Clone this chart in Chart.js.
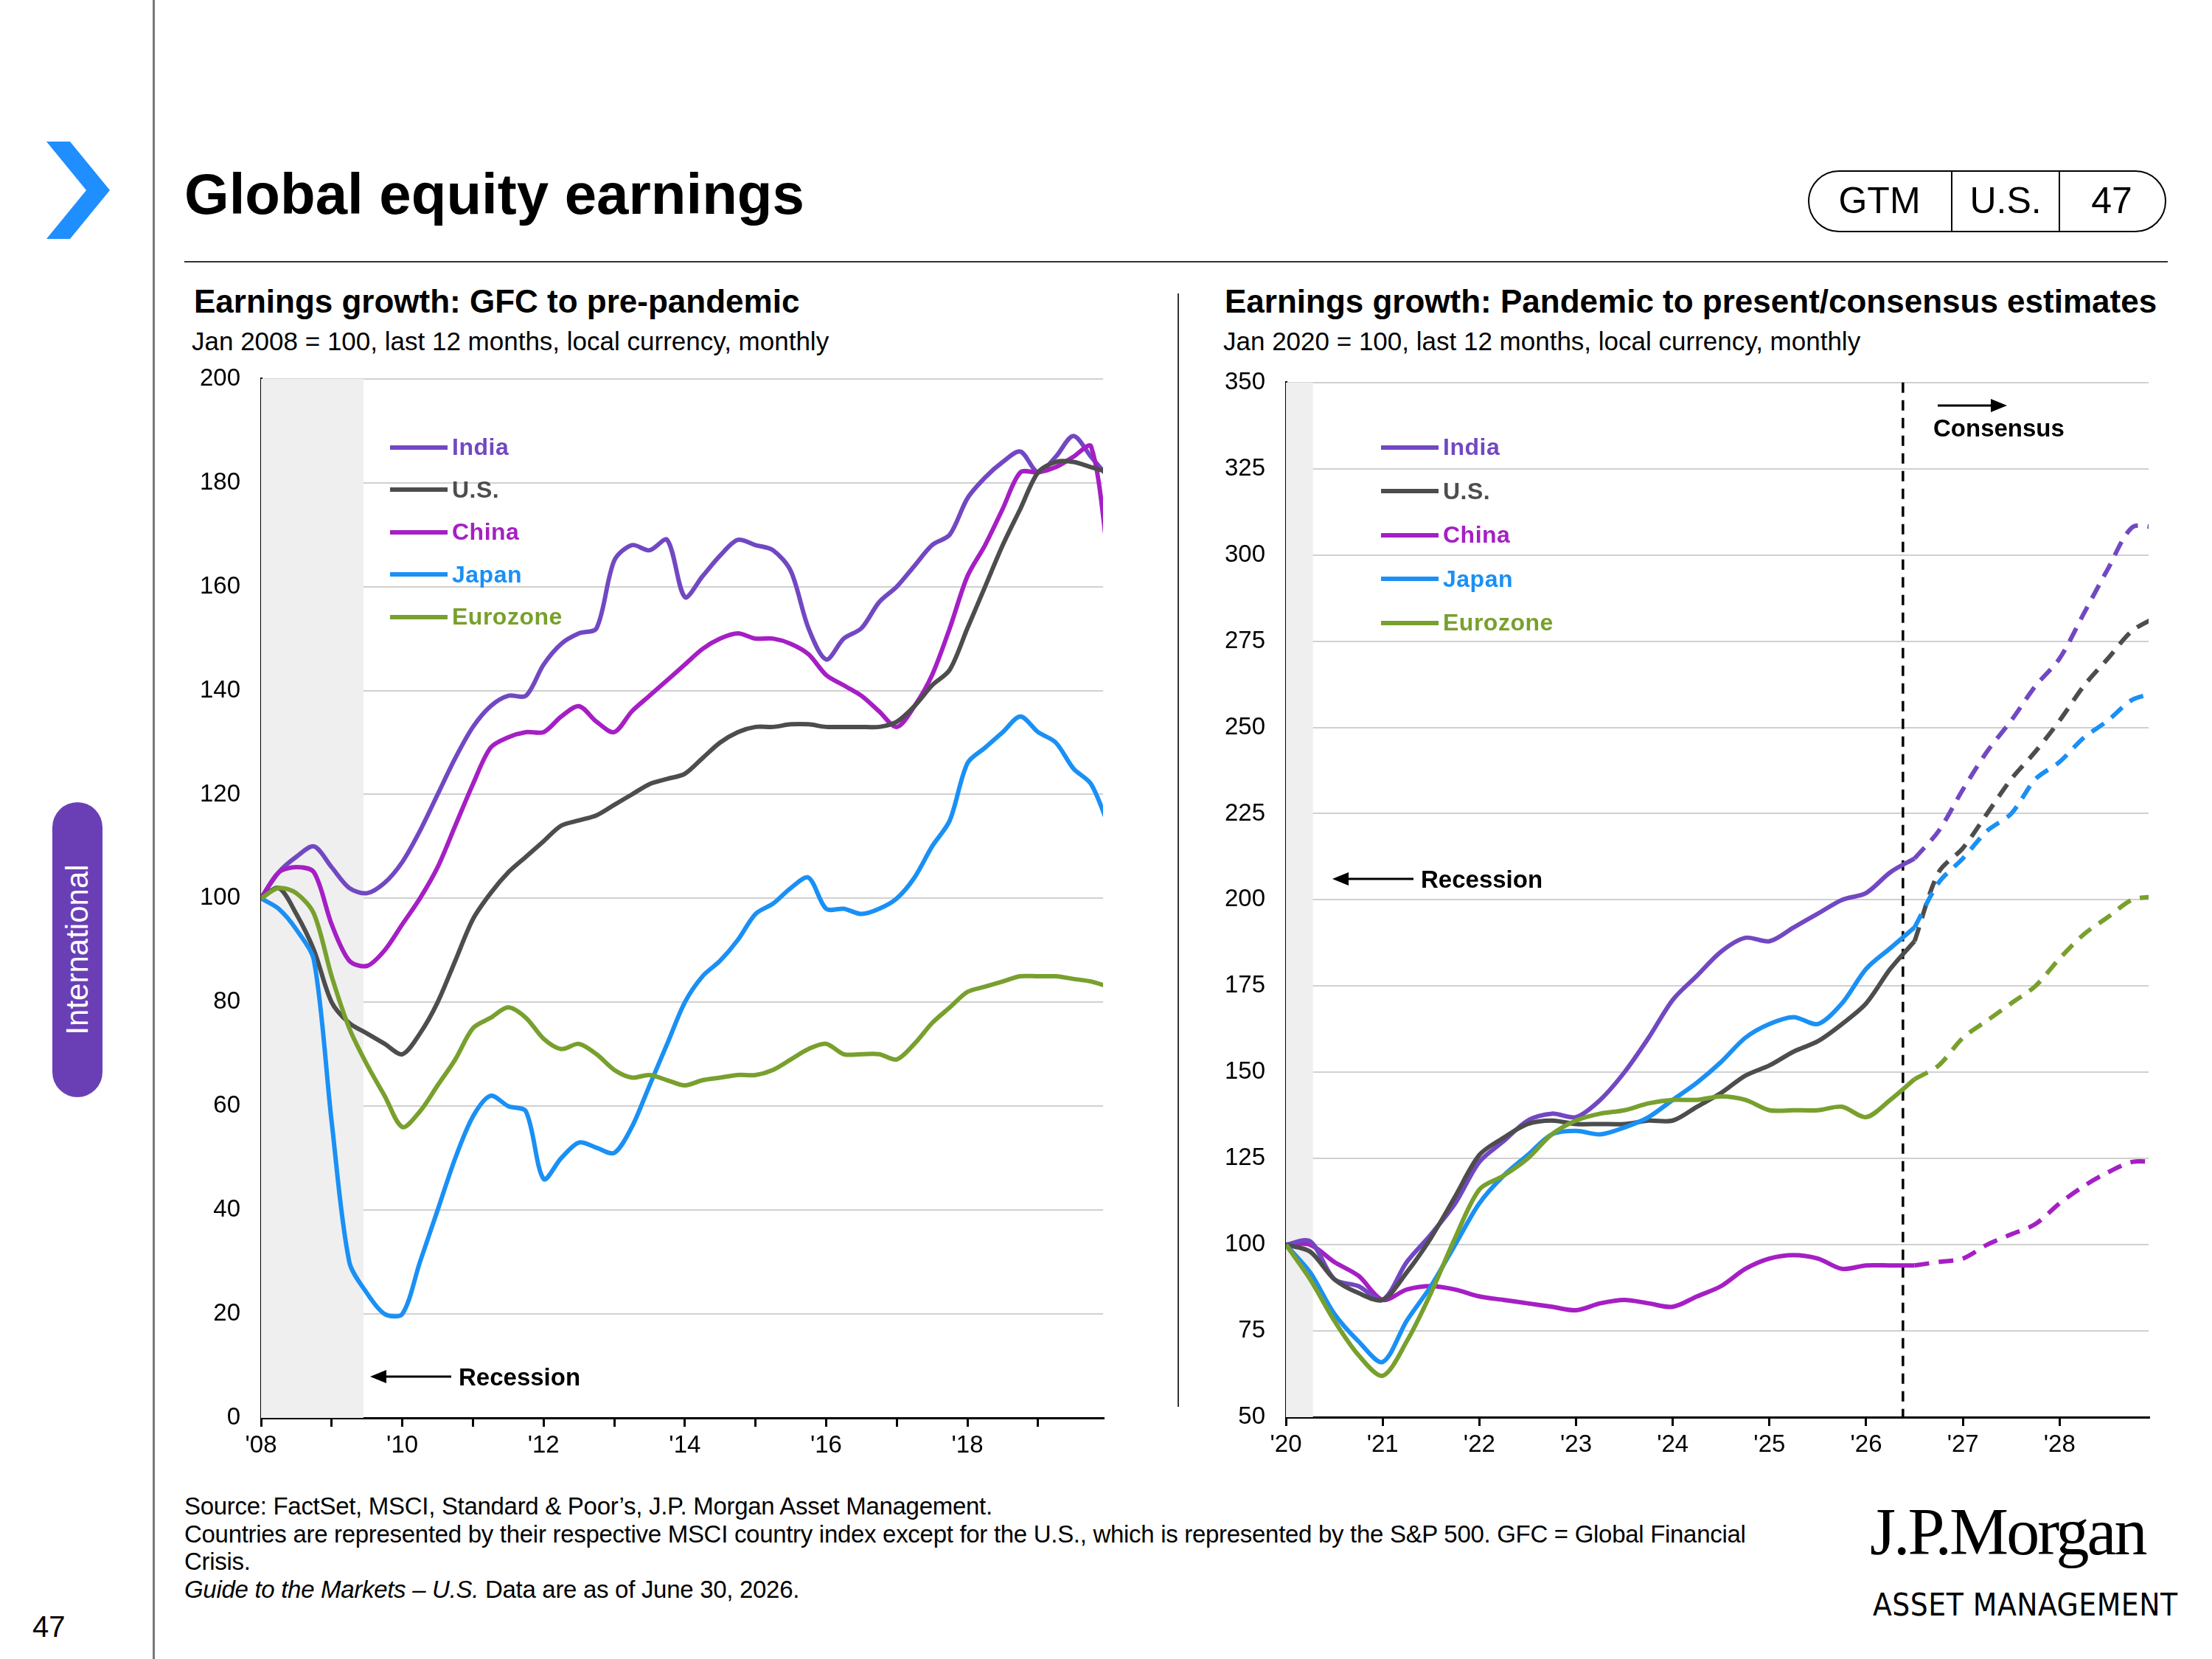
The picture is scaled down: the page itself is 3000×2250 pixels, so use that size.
<!DOCTYPE html>
<html>
<head>
<meta charset="utf-8">
<script src="https://cdn.jsdelivr.net/npm/chart.js@4"></script>
<style>
  body { margin:0; width:3000px; height:2250px; background:#fff; position:relative; overflow:hidden;
         font-family: "Liberation Sans", Arial, sans-serif; color:#000; }
  .abs { position:absolute; }
  .leg { position:absolute; font-weight:bold; font-size:32px; display:flex; align-items:center; letter-spacing:0.5px; }
  .leg span.ln { display:inline-block; width:78px; height:6px; margin-right:6px; }
</style>
</head>
<body>
<!-- page chrome -->
<svg class="abs" style="left:55px;top:192px" width="100" height="135"><polygon points="8,0 40,0 94,66 40,132 8,132 62,66" fill="#1f8fff"/></svg>
<div class="abs" style="left:207px;top:0;width:3px;height:2250px;background:#777"></div>
<div class="abs" style="left:250px;top:218px;font-size:78px;font-weight:bold;">Global equity earnings</div>
<div class="abs" style="left:250px;top:354px;width:2690px;height:2px;background:#333"></div>
<div class="abs" style="left:2452px;top:231px;width:482px;height:80px;border:2px solid #000;border-radius:42px;"></div>
<div class="abs" style="left:2646px;top:231px;width:2px;height:84px;background:#000"></div>
<div class="abs" style="left:2792px;top:231px;width:2px;height:84px;background:#000"></div>
<div class="abs" style="left:2452px;top:243px;width:194px;text-align:center;font-size:50px;">GTM</div>
<div class="abs" style="left:2648px;top:243px;width:144px;text-align:center;font-size:50px;">U.S.</div>
<div class="abs" style="left:2794px;top:243px;width:140px;text-align:center;font-size:50px;">47</div>
<div class="abs" style="left:71px;top:1088px;width:68px;height:400px;background:#6a3fb5;border-radius:34px;"></div>
<div class="abs" style="left:105px;top:1288px;transform:translate(-50%,-50%) rotate(-90deg);color:#fff;font-size:42px;white-space:nowrap;">International</div>
<div class="abs" style="left:44px;top:2184px;font-size:40px;">47</div>
<div class="abs" style="left:1597px;top:398px;width:2px;height:1510px;background:#333"></div>

<!-- chart titles -->
<div class="abs" style="left:263px;top:384px;font-size:44px;font-weight:bold;">Earnings growth: GFC to pre-pandemic</div>
<div class="abs" style="left:260px;top:443px;font-size:35px;">Jan 2008 = 100, last 12 months, local currency, monthly</div>
<div class="abs" style="left:1661px;top:384px;font-size:44px;font-weight:bold;">Earnings growth: Pandemic to present/consensus estimates</div>
<div class="abs" style="left:1659px;top:443px;font-size:35px;">Jan 2020 = 100, last 12 months, local currency, monthly</div>

<canvas id="left" class="abs" style="left:230px;top:466px" width="1282" height="1537"></canvas>
<canvas id="right" class="abs" style="left:1624px;top:471px" width="1300" height="1531"></canvas>

<!-- legends and notes -->
<div id="legL"></div>
<div id="legR"></div>
<svg class="abs" style="left:500px;top:1854px" width="120" height="26"><line x1="20" y1="13" x2="112" y2="13" stroke="#000" stroke-width="3"/><polygon points="2,13 24,4 24,22" fill="#000"/></svg>
<div class="abs" style="left:622px;top:1849px;font-size:33px;font-weight:bold;">Recession</div>
<svg class="abs" style="left:1805px;top:1179px" width="120" height="26"><line x1="20" y1="13" x2="112" y2="13" stroke="#000" stroke-width="3"/><polygon points="2,13 24,4 24,22" fill="#000"/></svg>
<div class="abs" style="left:1927px;top:1174px;font-size:33px;font-weight:bold;">Recession</div>
<svg class="abs" style="left:2626px;top:537px" width="100" height="26"><line x1="2" y1="13" x2="80" y2="13" stroke="#000" stroke-width="3"/><polygon points="96,13 74,4 74,22" fill="#000"/></svg>
<div class="abs" style="left:2622px;top:562px;font-size:33px;font-weight:bold;">Consensus</div>

<!-- footer -->
<div class="abs" style="left:250px;top:2024px;font-size:33px;line-height:37.5px;width:2270px;letter-spacing:-0.3px;">
Source: FactSet, MSCI, Standard &amp; Poor’s, J.P. Morgan Asset Management.<br>
Countries are represented by their respective MSCI country index except for the U.S., which is represented by the S&amp;P 500. GFC = Global Financial<br>
Crisis.<br>
<i>Guide to the Markets – U.S.</i> Data are as of June 30, 2026.</div>
<div class="abs" style="left:2536px;top:2026px;font-family:'Liberation Serif',serif;font-size:90px;letter-spacing:-3px;">J.P.Morgan</div>
<div class="abs" style="left:2540px;top:2152px;font-size:42px;letter-spacing:0.5px;font-family:'DejaVu Sans Condensed','Liberation Sans Narrow',sans-serif;">ASSET MANAGEMENT</div>

<script>
// ---- data (quarterly readings; left starts Jan 2008, right starts Jan 2020) ----
const seriesNames = ['India', 'U.S.', 'China', 'Japan', 'Eurozone'];
const seriesColors = ['#7248c2', '#4d4d4d', '#a51fc4', '#1a90f5', '#78a02e'];

const leftStart = 2008;
const leftIndia = [100,105,108,110,106,102,101,103,107,113,120,127,133,137,139,139,145,149,151,152,165,168,167,169,158,162,166,169,168,167,163,152,146,150,152,157,160,164,168,170,177,181,184,186,182,185,189,185,181];
const leftUS = [100,102,97,90,80,76,74,72,70,74,80,88,96,101,105,108,111,114,115,116,118,120,122,123,124,127,130,132,133,133,133.5,133.5,133,133,133,133,134,137,141,144,152,160,168,175,182,184,184,183,182];
const leftChina = [100,105,106,105,95,88,87,90,95,100,106,114,122,129,131,132,132,135,137,134,132,136,139,142,145,148,150,151,150,150,149,147,143,141,139,136,133,137,143,152,162,168,175,182,182,183,185,187,165];
const leftJapan = [100,98,94,88,57,30,24,20,20,30,40,50,58,62,60,59,46,50,53,52,51,56,64,72,80,85,88,92,97,99,102,104,98,98,97,98,100,104,110,115,126,129,132,135,132,130,125,122,114];
const leftEuro = [100,102,101,97,85,75,68,62,56,59,64,69,75,77,79,77,73,71,72,70,67,65.5,66,65,64,65,65.5,66,66,67,69,71,72,70,70,70,69,72,76,79,82,83,84,85,85,85,84.5,84,83];
const leftTicks = ["'08", "'10", "'12", "'14", "'16", "'18"];

const rightStart = 2020;
const rightIndia = [100,101,90,88,84,95,103,112,124,130,136,138,137,142,150,160,171,178,185,189,188,192,196,200,202,208,212];
const rightUS = [100,98,90,86,84,92,102,114,126,131,135,136,135,135,135,136,136,140,144,149,152,156,159,164,170,180,188];
const rightChina = [100,100,95,91,84,87,88,87,85,84,83,82,81,83,84,83,82,85,88,93,96,97,96,93,94,94,94];
const rightJapan = [100,92,80,72,66,78,88,100,112,120,126,132,133,132,134,137,142,147,153,160,164,166,164,170,180,186,192];
const rightEuro = [100,90,78,68,62,72,86,102,116,120,125,132,136,138,139,141,142,142,143,142,139,139,139,140,137,142,148];
const consStart = 2026.5;
const consIndia = [212,220,232,243,252,262,270,283,296,308,308];
const consUS = [188,208,215,225,235,243,252,262,270,278,282];
const consChina = [94,95,96,100,103,106,112,117,121,124,124];
const consJapan = [192,205,212,220,225,235,240,247,252,258,260];
const consEuro = [148,152,160,165,170,175,183,190,195,200,201];
const rightTicks = ["'20", "'21", "'22", "'23", "'24", "'25", "'26", "'27", "'28"];

const recessionLeft = [2008, 2009.45];
const recessionRight = [2020, 2020.28];
const consensusLine = 2026.38;

// ---- helpers ----
const pts = (start, vals) => vals.map((v, i) => ({ x: start + i * 0.25, y: v }));

function legend(id, left, top, step) {
  const el = document.getElementById(id);
  seriesNames.forEach((n, i) => {
    const d = document.createElement('div');
    d.className = 'leg';
    d.style.left = left + 'px';
    d.style.top = (top + i * step) + 'px';
    d.style.color = seriesColors[i];
    d.innerHTML = `<span class="ln" style="background:${seriesColors[i]}"></span>${n}`;
    el.appendChild(d);
  });
}
legend('legL', 529, 588, 57.5);
legend('legR', 1873, 588, 59.5);

const shade = (range, dashedAt) => ({
  id: 'shade',
  beforeDatasetsDraw(chart) {
    const { ctx, chartArea, scales } = chart;
    ctx.save();
    ctx.fillStyle = '#efefef';
    const x0 = scales.x.getPixelForValue(range[0]);
    const x1 = scales.x.getPixelForValue(range[1]);
    ctx.fillRect(x0, chartArea.top, x1 - x0, chartArea.bottom - chartArea.top);
    if (dashedAt) {
      const x = scales.x.getPixelForValue(dashedAt);
      ctx.strokeStyle = '#000';
      ctx.lineWidth = 3.5;
      ctx.setLineDash([14, 10]);
      ctx.beginPath();
      ctx.moveTo(x, chartArea.top);
      ctx.lineTo(x, chartArea.bottom);
      ctx.stroke();
    }
    ctx.restore();
  }
});

function axes(xmin, xmax, ticks, ymin, ymax, ystep, yWidth) {
  return {
    x: {
      type: 'linear', min: xmin, max: xmax,
      afterBuildTicks: a => { a.ticks = []; for (let y = xmin; y <= Math.floor(xmax); y++) a.ticks.push({ value: y }); },
      grid: { display: true, drawOnChartArea: false, color: '#000', tickLength: 12, lineWidth: 3 },
      border: { color: '#000', width: 3 },
      ticks: {
        autoSkip: false, maxRotation: 0, color: '#000', font: { size: 33, family: 'Liberation Sans' }, padding: 6,
        callback: v => { const s = "'" + String(v).slice(2); return ticks.includes(s) ? s : ''; }
      },
      afterFit: s => { s.height = 80; }
    },
    y: {
      min: ymin, max: ymax,
      ticks: { stepSize: ystep, color: '#000', font: { size: 33, family: 'Liberation Sans' }, padding: 28 },
      grid: { color: '#d0d0d0', lineWidth: 2, drawTicks: false },
      border: { color: '#000', width: 3 },
      afterFit: s => { s.width = yWidth; }
    }
  };
}

const line = (data, i, dashed) => ({
  data, borderColor: seriesColors[i], borderWidth: 6, pointRadius: 0, tension: 0.3,
  borderDash: dashed ? [20, 13] : [], fill: false
});

const common = {
  responsive: false, animation: false,
  plugins: { legend: { display: false }, tooltip: { enabled: false } },
};

new Chart(document.getElementById('left'), {
  type: 'line',
  data: { datasets: [
    line(pts(leftStart, leftEuro), 4), line(pts(leftStart, leftJapan), 3), line(pts(leftStart, leftUS), 1),
    line(pts(leftStart, leftChina), 2), line(pts(leftStart, leftIndia), 0)
  ] },
  options: { ...common, layout: { padding: { top: 0, right: 16 } },
    scales: axes(2008, 2019.92, leftTicks, 0, 200, 20, 124) },
  plugins: [shade(recessionLeft)]
});

new Chart(document.getElementById('right'), {
  type: 'line',
  data: { datasets: [
    line(pts(rightStart, rightEuro), 4), line(pts(rightStart, rightJapan), 3), line(pts(rightStart, rightUS), 1),
    line(pts(rightStart, rightIndia), 0), line(pts(rightStart, rightChina), 2),
    line(pts(consStart, consEuro), 4, true), line(pts(consStart, consJapan), 3, true), line(pts(consStart, consUS), 1, true),
    line(pts(consStart, consIndia), 0, true), line(pts(consStart, consChina), 2, true)
  ] },
  options: { ...common, layout: { padding: { top: 0, right: 10 } },
    scales: axes(2020, 2028.92, rightTicks, 50, 350, 25, 120) },
  plugins: [shade(recessionRight, consensusLine)]
});
</script>
</body>
</html>
